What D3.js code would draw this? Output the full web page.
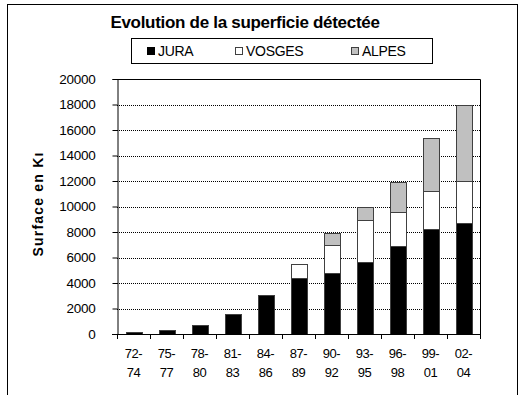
<!DOCTYPE html>
<html>
<head>
<meta charset="utf-8">
<script src="https://cdn.jsdelivr.net/npm/d3@7"></script>
<style>
  body { margin: 0; background: #fff; }
  svg { display: block; font-family: "Liberation Sans", Arial, sans-serif; }
</style>
</head>
<body>
<svg id="chart" width="522" height="395"></svg>
<script>
// periods and surfaces
const periods = ['72-74', '75-77', '78-80', '81-83', '84-86', '87-89', '90-92', '93-95', '96-98', '99-01', '02-04'];
const jura = [150, 300, 700, 1550, 3050, 4400, 4780, 5650, 6930, 8260, 8700];
const vosges = [0, 0, 0, 0, 0, 1070, 2200, 3290, 2610, 2980, 3300];
const alpes = [0, 0, 0, 0, 0, 0, 920, 1000, 2360, 4160, 5960];
const seriesNames = ['JURA', 'VOSGES', 'ALPES'];
const yTicks = [0, 2000, 4000, 6000, 8000, 10000, 12000, 14000, 16000, 18000, 20000];

const colors = { JURA: '#000000', VOSGES: '#ffffff', ALPES: '#c0c0c0' };
const plot = { left: 117, right: 480, top: 79, bottom: 334 };

const rows = periods.map((p, i) => ({ period: p, JURA: jura[i], VOSGES: vosges[i], ALPES: alpes[i] }));
const stacked = d3.stack().keys(seriesNames)(rows);

const svg = d3.select('#chart');

// outer frame of the chart
svg.append('rect')
  .attr('x', 7.5).attr('y', 4.5)
  .attr('width', 510).attr('height', 400)
  .attr('fill', 'none').attr('stroke', '#000');

const x = d3.scaleBand().domain(periods).range([plot.left, plot.right]).paddingInner(0.52).paddingOuter(0.26);
const y = d3.scaleLinear().domain([0, 20000]).range([plot.bottom, plot.top]);

// dotted grid
svg.append('g')
  .selectAll('line')
  .data(yTicks.filter(t => t > 0 && t < 20000))
  .join('line')
  .attr('x1', plot.left).attr('x2', plot.right)
  .attr('y1', d => Math.round(y(d)) + 0.5).attr('y2', d => Math.round(y(d)) + 0.5)
  .attr('stroke', '#000').attr('stroke-dasharray', '1,1');

// plot frame top + right
svg.append('path')
  .attr('d', `M${plot.left},${plot.top + 0.5}H${plot.right + 0.5}V${plot.bottom}`)
  .attr('fill', 'none').attr('stroke', '#000');

// bars
svg.append('g')
  .selectAll('g')
  .data(stacked)
  .join('g')
  .attr('fill', d => colors[d.key])
  .selectAll('rect')
  .data(d => d.filter(s => s[1] - s[0] > 0))
  .join('rect')
  .attr('x', d => Math.round(x(d.data.period)) + 0.5)
  .attr('y', d => Math.round(y(d[1])) + 0.5)
  .attr('width', Math.round(x.bandwidth()))
  .attr('height', d => Math.round(y(d[0])) - Math.round(y(d[1])))
  .attr('stroke', '#404040');

// y axis
const yAxis = svg.append('g')
  .attr('transform', `translate(${plot.left + 0.5},0)`)
  .call(d3.axisLeft(y).tickValues(yTicks).tickSize(5).tickPadding(17).tickFormat(d3.format('d')));
yAxis.select('.domain').attr('stroke', '#000');
yAxis.selectAll('.tick line').attr('stroke', '#000');
yAxis.selectAll('text')
  .attr('font-size', 13.5).attr('fill', '#000')
  .attr('font-family', '"Liberation Sans", Arial, sans-serif')
  .attr('letter-spacing', '-0.25');

// x axis: ticks between categories
const xAxisG = svg.append('g');
xAxisG.append('line')
  .attr('x1', plot.left - 5).attr('x2', plot.right + 1)
  .attr('y1', plot.bottom + 0.5).attr('y2', plot.bottom + 0.5)
  .attr('stroke', '#000');
xAxisG.selectAll('line.t')
  .data(d3.range(periods.length + 1))
  .join('line')
  .attr('class', 't')
  .attr('x1', i => Math.round(plot.left + i * (plot.right - plot.left) / periods.length) + 0.5)
  .attr('x2', i => Math.round(plot.left + i * (plot.right - plot.left) / periods.length) + 0.5)
  .attr('y1', plot.bottom).attr('y2', plot.bottom + 5)
  .attr('stroke', '#000');

const xLabels = svg.append('g')
  .selectAll('text')
  .data(periods)
  .join('text')
  .attr('text-anchor', 'middle')
  .attr('font-size', 13)
  .attr('letter-spacing', '-0.4')
  .attr('fill', '#000');
xLabels.append('tspan')
  .attr('x', d => x(d) + x.bandwidth() / 2)
  .attr('y', 357.5)
  .text(d => d.split('-')[0] + '-');
xLabels.append('tspan')
  .attr('x', d => x(d) + x.bandwidth() / 2)
  .attr('y', 376.5)
  .text(d => d.split('-')[1]);

// y axis title
svg.append('text')
  .attr('transform', 'translate(43,204) rotate(-90)')
  .attr('text-anchor', 'middle')
  .attr('font-size', 14).attr('font-weight', 'bold')
  .attr('letter-spacing', '1.2')
  .text('Surface en Kı');

// title
svg.append('text')
  .attr('x', 245).attr('y', 28)
  .attr('text-anchor', 'middle')
  .attr('font-size', 17).attr('font-weight', 'bold')
  .attr('letter-spacing', '-0.3')
  .text('Evolution de la superficie détectée');

// legend
const legend = svg.append('g');
legend.append('rect')
  .attr('x', 131.5).attr('y', 38.5)
  .attr('width', 301).attr('height', 25)
  .attr('fill', '#fff').attr('stroke', '#000');
const legendX = [147, 235, 351];
const items = legend.selectAll('g.item')
  .data(seriesNames)
  .join('g')
  .attr('class', 'item')
  .attr('transform', (d, i) => `translate(${legendX[i]},0)`);
items.append('rect')
  .attr('x', 0.5).attr('y', 47.5)
  .attr('width', 7).attr('height', 7)
  .attr('fill', d => colors[d])
  .attr('stroke', d => d === 'JURA' ? '#000' : '#404040');
items.append('text')
  .attr('x', 11).attr('y', 55.5)
  .attr('font-size', 14)
  .attr('letter-spacing', '-0.3')
  .text(d => d);
</script>
</body>
</html>
